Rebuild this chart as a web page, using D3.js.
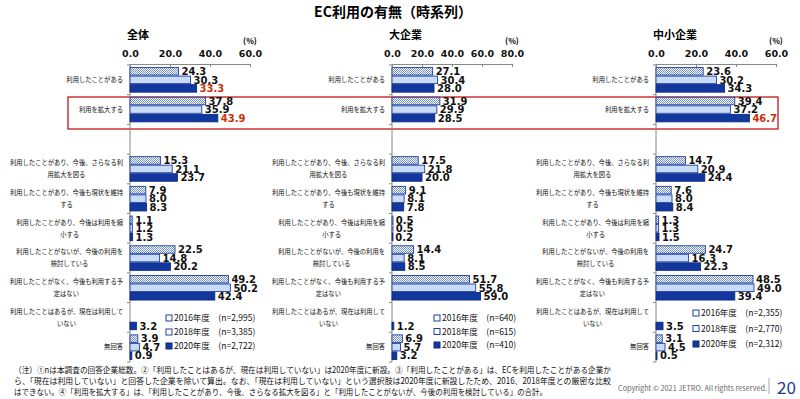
<!DOCTYPE html>
<html>
<head>
<meta charset="utf-8">
<script src="https://cdn.jsdelivr.net/npm/d3@7/dist/d3.min.js"></script>
<style>
  body { margin: 0; background: #fff; }
  svg { display: block; font-family: "Noto Sans CJK JP", "Noto Sans", sans-serif; }
  .num { font-family: "DejaVu Sans", sans-serif; font-weight: bold; }
  .cat { font-size: 6.3px; fill: #111; }
  .legend_item_text { font-size: 8.5px; fill: #111; }
</style>
</head>
<body>
<div id="chart"></div>
<script>
// categories (the empty one is a spacer row)
const categories = [
  "利用したことがある",
  "利用を拡大する",
  "",
  "利用したことがあり、今後、さらなる利\n用拡大を図る",
  "利用したことがあり、今後も現状を維持\nする",
  "利用したことがあり、今後は利用を縮\n小する",
  "利用したことがないが、今後の利用を\n検討している",
  "利用したことがなく、今後も利用する予\n定はない",
  "利用したことはあるが、現在は利用して\nいない",
  "無回答"
]
const seriesNames = ["2016年度", "2018年度", "2020年度"]
const panelNames = ["全体", "大企業", "中小企業"]
const panelTicks = [[0, 20, 40, 60], [0, 20, 40, 60, 80], [0, 20, 40, 60]]
const panelN = [["2,995", "3,385", "2,722"], ["640", "615", "410"], ["2,355", "2,770", "2,312"]]

// values (%)
const total2016 = [24.3, 37.8, null, 15.3, 7.9, 1.1, 22.5, 49.2, null, 3.9]
const total2018 = [30.3, 35.9, null, 21.1, 8.0, 1.2, 14.8, 50.2, null, 4.7]
const total2020 = [33.3, 43.9, null, 23.7, 8.3, 1.3, 20.2, 42.4, 3.2, 0.9]
const large2016 = [27.1, 31.9, null, 17.5, 9.1, 0.5, 14.4, 51.7, null, 6.9]
const large2018 = [30.4, 29.9, null, 21.8, 8.1, 0.5, 8.1, 55.8, null, 5.7]
const large2020 = [28.0, 28.5, null, 20.0, 7.8, 0.2, 8.5, 59.0, 1.2, 3.2]
const sme2016 = [23.6, 39.4, null, 14.7, 7.6, 1.3, 24.7, 48.5, null, 3.1]
const sme2018 = [30.2, 37.2, null, 20.9, 8.0, 1.3, 16.3, 49.0, null, 4.5]
const sme2020 = [34.3, 46.7, null, 24.4, 8.4, 1.5, 22.3, 39.4, 3.5, 0.5]

const panelData = [
  [total2016, total2018, total2020],
  [large2016, large2018, large2020],
  [sme2016, sme2018, sme2020]
]
// labels shown in red: [panel, category, series]
const redLabels = [[0, 0, 2], [0, 1, 2], [2, 1, 2]]

const W = 800, H = 399
const svg = d3.select("#chart").append("svg").attr("width", W).attr("height", H)

const defs = svg.append("defs")
const pat = defs.append("pattern").attr("id", "dots")
  .attr("patternUnits", "userSpaceOnUse").attr("width", 2).attr("height", 2)
pat.append("rect").attr("width", 2).attr("height", 2).attr("fill", "#fff")
pat.append("rect").attr("width", 1).attr("height", 1).attr("fill", "#6f8fd6")
pat.append("rect").attr("x", 1).attr("y", 1).attr("width", 1).attr("height", 1).attr("fill", "#6f8fd6")

const fills = ["url(#dots)", "#c9dcf7", "#1238a0"]
const strokes = ["#1f3f9f", "#1f3f9f", "#0a2a80"]

// title
svg.append("text").attr("x", 393).attr("y", 17).attr("text-anchor", "middle")
  .style("font-size", "14px").style("font-weight", "bold").text("EC利用の有無（時系列）")

// red highlight box
svg.append("rect").attr("x", 68).attr("y", 97).attr("width", 710).attr("height", 32)
  .attr("fill", "none").attr("stroke", "#c00000").attr("stroke-width", 1.2)

const y = d3.scaleBand().domain(d3.range(categories.length)).range([65, 362])
const yInner = d3.scaleBand().domain([0, 1, 2]).range([0, y.bandwidth()])
  .paddingInner(0.12).paddingOuter(0.3)

const panelX = [[130, 250], [392, 512], [656, 776]]
const legendPos = [[166, 318, 14], [434, 318, 13.5], [693, 313, 15.5]]

panelNames.forEach((name, p) => {
  const ticks = panelTicks[p]
  const x = d3.scaleLinear().domain([0, ticks[ticks.length - 1]]).range(panelX[p])
  const g = svg.append("g")

  g.append("text").attr("x", x(0) - 3).attr("y", 39)
    .style("font-size", "11px").style("font-weight", "bold").text(name)
  g.append("text").attr("x", x.range()[1]).attr("y", 44).attr("text-anchor", "middle")
    .style("font-size", "8px").style("font-weight", "bold").text("(%)")

  // top axis
  const ax = g.append("g").attr("transform", "translate(0,64)")
    .call(d3.axisTop(x).tickValues(ticks).tickFormat(d3.format(".1f"))
      .tickSizeInner(-3).tickSizeOuter(0).tickPadding(7))
  ax.select(".domain").attr("stroke", "#888")
  ax.selectAll(".tick line").attr("stroke", "#888")
  ax.selectAll(".tick text").attr("class", "num").style("font-size", "9.5px").attr("fill", "#111")

  // vertical axis with band ticks
  g.append("line").attr("x1", x(0)).attr("x2", x(0)).attr("y1", 64).attr("y2", 362).attr("stroke", "#888")
  g.selectAll(".ytick").data(d3.range(categories.length + 1)).join("line")
    .attr("x1", x(0) - 3).attr("x2", x(0))
    .attr("y1", i => y.range()[0] + i * y.step()).attr("y2", i => y.range()[0] + i * y.step())
    .attr("stroke", "#888")

  // category labels
  categories.forEach((c, i) => {
    if (!c) return
    const lines = c.split("\n")
    const cy = y(i) + y.bandwidth() / 2
    const t = g.append("g")
    const texts = lines.map((l, k) => t.append("text").attr("class", "cat")
      .attr("y", cy + 2.2 + (lines.length === 1 ? 0 : (k === 0 ? -6 : 6))).text(l))
    const widths = texts.map(tt => tt.node().getComputedTextLength())
    const mw = d3.max(widths)
    const right = x(0) - 7
    texts.forEach(tt => tt.attr("x", right - mw / 2).attr("text-anchor", "middle"))
  })

  // bars
  panelData[p].forEach((vals, s) => {
    vals.forEach((v, i) => {
      if (v == null) return
      const by = y(i) + yInner(s)
      g.append("rect").attr("x", x(0)).attr("y", by)
        .attr("width", Math.max(x(v) - x(0), 1)).attr("height", yInner.bandwidth())
        .attr("fill", fills[s]).attr("stroke", strokes[s]).attr("stroke-width", 0.9)
      const red = redLabels.some(r => r[0] === p && r[1] === i && r[2] === s)
      g.append("text").attr("class", "num").attr("x", x(v) + 3).attr("y", by + yInner.bandwidth() / 2 + 3.8)
        .style("font-size", "10px").attr("fill", red ? "#c8300a" : "#111")
        .text(v.toFixed(1))
    })
  })

  // legend
  const [lx, ly, ld] = legendPos[p]
  seriesNames.forEach((sn, s) => {
    const yy = ly + s * ld
    g.append("rect").attr("x", lx).attr("y", yy - 3).attr("width", 6).attr("height", 6)
      .attr("fill", s === 2 ? fills[2] : "#fff").attr("stroke", strokes[s]).attr("stroke-width", 1)
    g.append("text").attr("class", "legend_item_text").attr("x", lx + 8).attr("y", yy + 3)
      .text(sn + "　(n=" + panelN[p][s] + ")")
  })
})

// footnote
const notes = [
  ["（注）①nは本調査の回答企業総数。②「利用したことはあるが、現在は利用していない」は2020年度に新設。③「利用したことがある」は、ECを利用したことがある企業か", 597],
  ["ら、「現在は利用していない」と回答した企業を除いて算出。なお、「現在は利用していない」という選択肢は2020年度に新設したため、2016、2018年度との厳密な比較", 597],
  ["はできない。④「利用を拡大する」は、「利用したことがあり、今後、さらなる拡大を図る」と「利用したことがないが、今後の利用を検討している」の合計。", 533]
]
notes.forEach((n, i) => {
  svg.append("text").attr("x", 14).attr("y", 373 + i * 11)
    .attr("textLength", n[1]).attr("lengthAdjust", "spacingAndGlyphs")
    .style("font-size", "8.5px").attr("fill", "#111").text(n[0])
})

svg.append("text").attr("x", 618).attr("y", 391).attr("textLength", 149).attr("lengthAdjust", "spacingAndGlyphs")
  .style("font-size", "7.5px").attr("fill", "#666").text("Copyright © 2021 JETRO. All rights reserved.")
svg.append("line").attr("x1", 769).attr("x2", 769).attr("y1", 378).attr("y2", 394).attr("stroke", "#aaa")
svg.append("text").attr("x", 777).attr("y", 394).style("font-size", "17px").attr("fill", "#1a3a8f").text("20")
</script>
</body>
</html>
